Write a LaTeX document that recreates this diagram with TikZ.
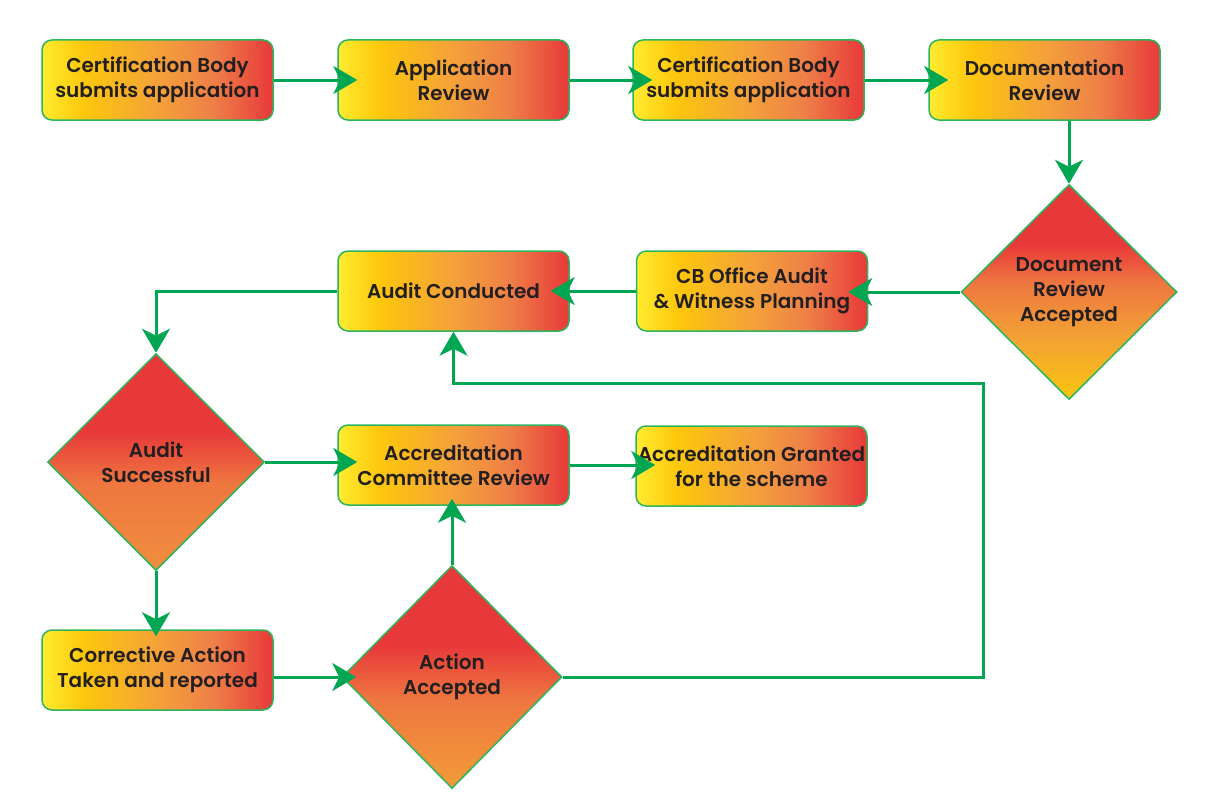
\documentclass[tikz,border=0pt]{standalone}
\usepackage{fontspec}
\setmainfont{Poppins}[BoldFont={* SemiBold}]
\usetikzlibrary{shapes.geometric,arrows.meta}
\definecolor{cY}{HTML}{FFEC30}
\definecolor{cG}{HTML}{FDC70C}
\definecolor{cO}{HTML}{F4A13A}
\definecolor{cO2}{HTML}{EE8047}
\definecolor{cR}{HTML}{E8393A}
\definecolor{dO}{HTML}{EE7740}
\definecolor{dAy}{HTML}{FBC510}
\definecolor{dAm}{HTML}{F3A035}
\definecolor{dBb}{HTML}{F08E3E}
\definecolor{dCb}{HTML}{F39C38}
\definecolor{lineG}{HTML}{00A651}
\definecolor{edgeG}{HTML}{2DB55D}
\definecolor{txt}{HTML}{231F20}
\pgfdeclarehorizontalshading{boxgrad}{100bp}{color(0bp)=(cY); color(25bp)=(cY); color(34bp)=(cG); color(50bp)=(cO); color(62bp)=(cO2); color(75bp)=(cR); color(100bp)=(cR)}
\pgfdeclareverticalshading{diagradA}{100bp}{color(0bp)=(dAy); color(25bp)=(dAy); color(40bp)=(dAm); color(52bp)=(dO); color(61bp)=(cR); color(100bp)=(cR)}
\pgfdeclareverticalshading{diagradB}{100bp}{color(0bp)=(dBb); color(25bp)=(dBb); color(45bp)=(dO); color(57bp)=(cR); color(100bp)=(cR)}
\pgfdeclareverticalshading{diagradC}{100bp}{color(0bp)=(dCb); color(25bp)=(dCb); color(45bp)=(dO); color(57bp)=(cR); color(100bp)=(cR)}
\tikzset{
  lbl/.style={font=\bfseries\fontsize{20}{25}\selectfont, text=txt, align=center, inner sep=0pt},
  box/.style={lbl, draw=edgeG, line width=1.5pt, rounded corners=10pt, shade, shading=boxgrad,
    minimum width=231pt, minimum height=80pt},
  dia/.style={lbl, diamond, aspect=1, draw=edgeG, line width=1.5pt, shade, shading=diagradB,
    minimum width=217pt, minimum height=217pt},
  arr/.style={draw=lineG, line width=3pt, -{Stealth[length=24pt,width=28pt,inset=7pt]}}
}
\begin{document}
\begin{tikzpicture}[x=1pt,y=-1pt]
\useasboundingbox (0,0) rectangle (1212,800);
\node[box] (b1) at (157.5,80) {Certification Body\\submits application};
\node[box] (b2) at (453.5,80) {Application\\Review};
\node[box] (b3) at (748.5,80) {Certification Body\\submits application};
\node[box] (b4) at (1044.5,80) {Documentation\\Review};
\node[dia, shading=diagradA, minimum width=216pt, minimum height=215pt] (d1) at (1069,292) {Document\\Review\\Accepted};
\node[box] (b5) at (752,291) {CB Office Audit\\\& Witness Planning};
\node[box] (b6) at (453.5,291) {Audit Conducted};
\node[dia] (d2) at (156,462) {Audit\\Successful};
\node[box] (b7) at (453.5,465) {Accreditation\\Committee Review};
\node[box] (b8) at (751.5,466) {Accreditation Granted\\for the scheme};
\node[box] (b9) at (157.5,670) {Corrective Action\\Taken and reported};
\node[dia, shading=diagradC, minimum width=220pt, minimum height=223pt] (d3) at (452,677) {Action\\Accepted};
\coordinate (c1) at (983,678);
\coordinate (c2) at (983,383);
\draw[arr, shorten >=-20pt] (b1) -- (b2);
\draw[arr, shorten >=-20pt] (b2) -- (b3);
\draw[arr, shorten >=-20pt] (b3) -- (b4);
\draw[arr] (b4.south -| d1.north) -- (d1.north);
\draw[arr, shorten >=-20pt] (d1.west) -- (d1.west -| b5.east);
\draw[arr, shorten >=-19pt] (b5) -- (b6);
\draw[arr] (b6.west) -| (d2.north);
\draw[arr, shorten >=-20pt] (d2.east) -- (d2.east -| b7.west);
\draw[arr, shorten >=-20pt] (b7.east) -- (b7.east -| b8.west);
\draw[arr, shorten >=-7pt] (d2.south) -- (d2.south |- b9.north);
\draw[arr, shorten >=-15pt] (d3.west -| b9.east) -- (d3.west);
\draw[arr, shorten >=-7pt] (d3.north) -- (d3.north |- b7.south);
\draw[arr] (d3.east) -- (d3.east -| c1) -- (c2) -- (c2 -| b6.south) -- (b6.south);
\end{tikzpicture}
\end{document}
